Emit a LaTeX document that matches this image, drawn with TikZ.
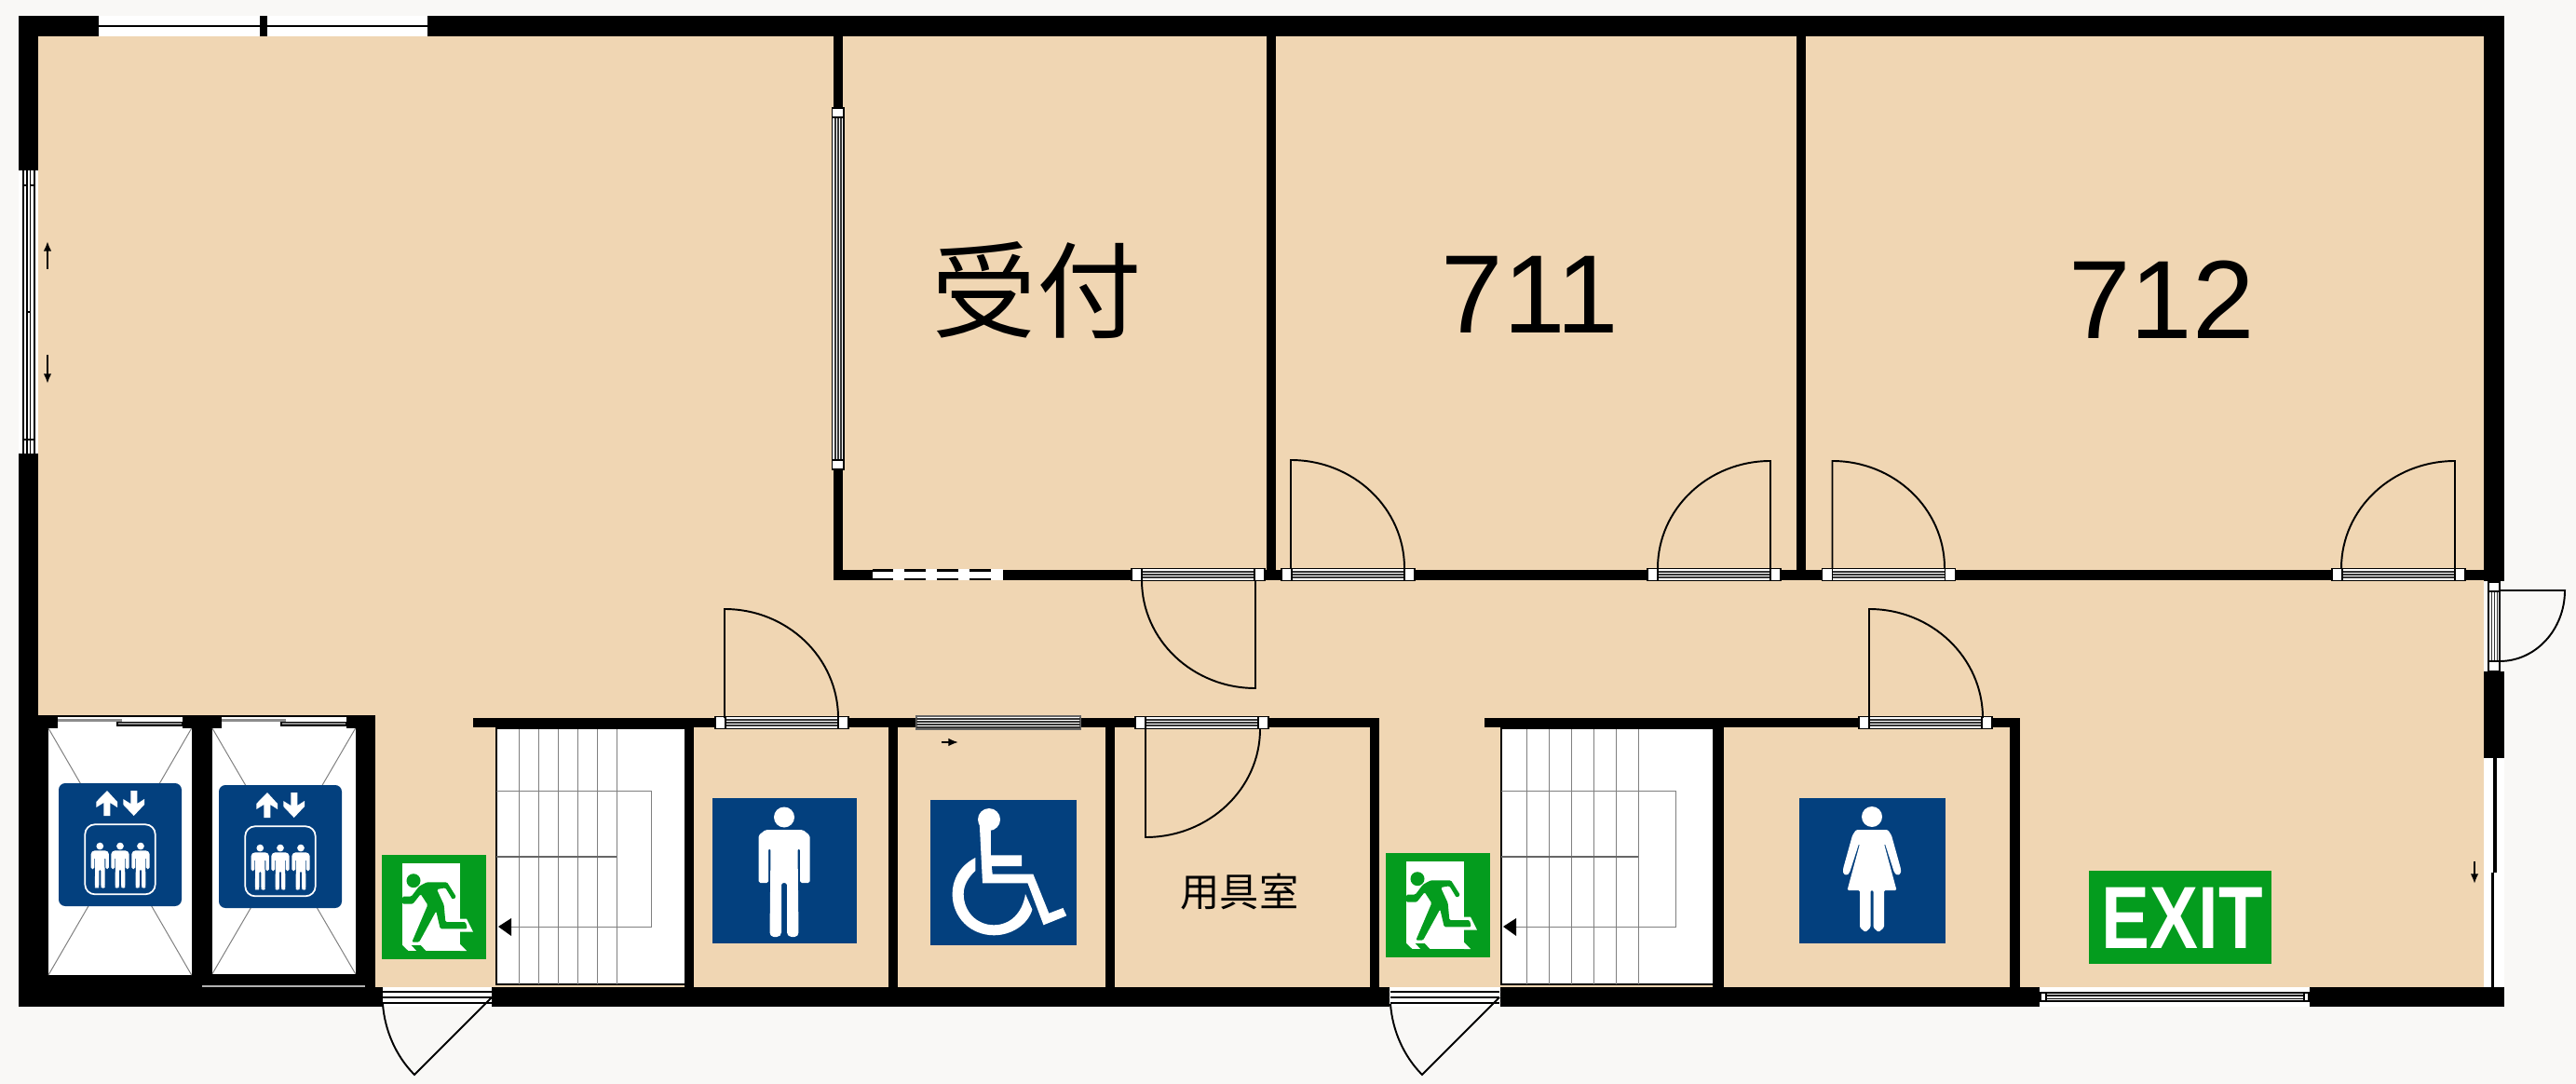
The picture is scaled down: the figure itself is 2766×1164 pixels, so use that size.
\documentclass[tikz,border=0pt]{standalone}
\usepackage{fontspec}
\usepackage{graphicx}
\setmainfont{Liberation Sans}
\newfontfamily\cjkfont{Noto Sans CJK JP}
\usetikzlibrary{calc, arrows.meta}
\definecolor{paper}{HTML}{F9F8F6}
\definecolor{floorcol}{HTML}{F0D6B3}
\definecolor{signblue}{HTML}{03407E}
\definecolor{signgreen}{HTML}{049C1E}
% door frame in a wall: x, y, length
\newcommand{\hframe}[3]{
	\draw[frameline, fill=white] (#1,#2) rectangle ++(#3,13);
	\foreach \k in {3.5,6.5,9.5} \draw[stripe] (#1,#2+\k) -- (#1+#3,#2+\k);
	\draw[frameline, fill=white] (#1,#2) rectangle ++(11,13);
	\draw[frameline, fill=white] (#1+#3-11,#2) rectangle ++(11,13);
}
% door leaf and swing: hinge, tip, end of arc
\newcommand{\doorleaf}[3]{
	\draw[leaf] (#1) -- (#2) .. controls ($(#2)+.5523*(#3)-.5523*(#1)$) and ($(#3)+.5523*(#2)-.5523*(#1)$) .. (#3);
}
\tikzset{
	wall/.style = {fill=black},
	leaf/.style = {draw=black, line width=.55pt},
	frameline/.style = {draw=black, line width=.5pt},
	stripe/.style = {draw=black!80, line width=.3pt},
	tread/.style = {draw=black!50, line width=.28pt},
	thinarrow/.style = {-{Latex[length=3pt, width=2.4pt]}, line width=.55pt},
	pics/man/.style = {code = {
		\fill[white] (0,-13.5) circle[radius=11];
		\fill[white, rounded corners=.5pt] (-20,0) -- (20,0) -- (27.5,6) -- (27.5,57) -- (17,57) -- (17,20) -- (14.5,20) -- (15.5,112) -- (13,115) -- (6,115) -- (3,112) -- (3,57) -- (-3,57) -- (-3,112) -- (-6,115) -- (-13,115) -- (-15.5,112) -- (-14.5,20) -- (-17,20) -- (-17,57) -- (-27.5,57) -- (-27.5,6) -- cycle;
	}},
	pics/woman/.style = {code = {
		\fill[white] (0,-14) circle[radius=11];
		\fill[white, rounded corners=.4pt] (-17,0) -- (17,0) -- (21,6) -- (31,42) -- (31,47) -- (27,49) -- (24,46) -- (14,15) -- (13,15) -- (26.5,65) -- (13,65) -- (13,105) -- (7,110) -- (1.5,105) -- (1.5,65) -- (-1.5,65) -- (-1.5,105) -- (-7,110) -- (-13,105) -- (-13,65) -- (-26.5,65) -- (-13,15) -- (-14,15) -- (-24,46) -- (-27,49) -- (-31,47) -- (-31,42) -- (-21,6) -- cycle;
	}},
	pics/liftsign/.style = {code = {
		\fill[signblue, rounded corners=2pt] (0,0) rectangle (132,132);
		\fill[white] (52,8) -- (63,20) -- (63,26) -- (55.3,21) -- (55.3,35) -- (48.3,35) -- (48.3,21) -- (40.3,26) -- (40.3,20) -- cycle;
		\fill[white] (77.3,8) -- (84.3,8) -- (84.3,22) -- (92,17) -- (92,23) -- (80.7,35) -- (69.3,23) -- (69.3,17) -- (77.3,22) -- cycle;
		\draw[white, line width=.5pt, rounded corners=3pt] (28.3,44.3) rectangle (103.7,119.3);
		\foreach \mx in {44.3,66,88} \pic[scale=.35] at (\mx,72.3) {man};
	}},
	pics/runsign/.style = {code = {
		\fill[signgreen] (0,0) rectangle (112,112);
		\fill[white] (22,9) rectangle (84,103);
		\fill[white] (84,68.7) -- (91,68.7) -- (98,82.7) -- (84,82.7) -- cycle;
		\fill[white] (84,96) -- (91,103) -- (84,103) -- cycle;
		\fill[signgreen] (22,97) -- (28.3,103) -- (22,103) -- cycle;
		\fill[signgreen] (31.7,97) -- (41.7,97) -- (47.3,103) -- (37.3,103) -- cycle;
		\fill[signgreen] (34,27.7) circle[radius=7.5];
		\fill[signgreen, rounded corners=.4pt] (22,44.7) -- (31.7,44.7) -- (40,33.7) -- (48.3,29.3) -- (70,29.3) -- (80,45.3) -- (76,48) -- (68.3,35.3) -- (59,37) -- (66.7,53.7) -- (68.3,72) -- (90,72) -- (91.7,79.3) -- (62.7,79.3) -- (58.3,60.3) -- (40,93.7) -- (32.3,93.7) -- (49.3,53.7) -- (41.7,42) -- (33.3,52.7) -- (22,52.7) -- cycle;
	}},
}
\begin{document}
\begin{tikzpicture}[x=.01cm, y=-.01cm]
	\useasboundingbox (0,0) rectangle (2766,1164);
	\fill[paper] (0,0) rectangle (2766,1164);
	\fill[floorcol] (41,39) rectangle (2667,1060);

	% outer walls and the solid blocks
	\foreach \xa/\ya/\xb/\yb in {20/17/2689/39, 20/17/41/183, 20/487/41/1081, 2667/17/2689/624, 2667/721/2689/814,
		20/768/403/1081, 20/1060/411/1081, 528/1060/1492/1081, 1611/1060/2190/1081, 2480/1060/2689/1081,
		895/39/905/622, 895/612.5/2667/622.5, 1360/39/1370/622, 1929/39/1939/622,
		508/771/1481/781, 533/781/735/783, 735/771/745/1060, 954/771/964/1060, 1187/771/1197/1060, 1471/771/1481/1060,
		1594/771/2169/781, 1612/781/1839/783, 1839/771/1851/1060, 2158/771/2169/1060}
		\fill[wall] (\xa,\ya) rectangle (\xb,\yb);

	% top window
	\fill[white] (106,17) rectangle (458.5,39);
	\draw[black, line width=.6pt] (106,28) -- (458.5,28);
	\fill[wall] (278.6,17) rectangle (286.6,39);

	% left window
	\fill[white] (20,183) rectangle (41,487);
	\foreach \wx in {25,29,32.5,37} \draw[black, line width=.45pt] (\wx,183) -- (\wx,487);
	\draw[black, line width=.45pt] (25,199) -- (29,199) (32.5,199) -- (37,199) (29,335) -- (32.5,335) (25,472) -- (37,472);
	\draw[thinarrow] (51,289) -- (51,259);
	\draw[thinarrow] (51,381) -- (51,412);

	% lifts
	\foreach \lx/\ly/\sx/\sy in {52/1047/63/841, 228/1045.7/235/843} {
		\fill[white] (\lx,782) rectangle (\lx+153.7,\ly);
		\fill[white] (\lx+10,770) rectangle (\lx+144,782);
		\draw[tread] (\lx,782) -- (\lx+153.7,\ly) (\lx+153.7,782) -- (\lx,\ly);
		\fill[black!45] (\lx+10,771.5) rectangle (\lx+79,774.5);
		\draw[frameline, fill=black!45] (\lx+74,775.5) rectangle (\lx+144,779);
		\pic at (\sx,\sy) {liftsign};
	}
	\draw[black!30, line width=.3pt] (217,1059) -- (392,1059);

	% stairs
	\foreach \sa/\sb/\sc/\sd/\se in {533/735/557/21/699, 1612/1839/1639/24/1799} {
		\fill[white] (\sa,783) rectangle (\sb,1057);
		\draw[black, line width=.4pt] (\sa,781) -- (\sa,1057) -- (\sb,1057);
		\foreach \n in {0,...,5} \draw[tread] ({\sc+\n*\sd},783) -- ({\sc+\n*\sd},1057);
		\draw[tread] (\sa,849) -- (\se,849) -- (\se,995) -- (\sa+15,995);
		\draw[black!60, line width=.55pt] (\sa,920) -- ({\sc+5*\sd},920);
		\fill[black] (\sa+2,995) -- (\sa+16,986) -- (\sa+16,1005) -- cycle;
	}

	% doors in the room wall
	\foreach \dx in {1215,1376,1769,1956.5,2504} {\hframe{\dx}{610.5}{143}}
	\doorleaf{1348,623}{1348,739}{1226,623}
	\doorleaf{1386,610}{1386,494}{1508,610}
	\doorleaf{1901,610}{1901,495}{1780,610}
	\doorleaf{1967.5,610}{1967.5,495}{2088,610}
	\doorleaf{2636,610}{2636,495}{2514,610}

	% doors in the lower wall
	\foreach \dx in {768,1219,1996} {\hframe{\dx}{769.5}{143}}
	\doorleaf{778,771}{778,654}{900,771}
	\doorleaf{1230,783}{1230,899}{1353,783}
	\doorleaf{2007,771}{2007,654}{2129,771}
	\fill[white] (984,769) rectangle (1160,783);
	\draw[black!60, line width=.4pt] (984,769) rectangle (1160,783);
	\foreach \k in {772,775,778,781} \draw[stripe] (984,\k) -- (1160,\k);
	\draw[thinarrow, line width=.5pt] (1010.5,797) -- (1029,797);

	% partition window
	\draw[frameline, fill=white] (893.5,116) rectangle (906,504);
	\foreach \k in {897,900,903} \draw[stripe] (\k,116) -- (\k,504);
	\draw[frameline, fill=white] (893.5,116) rectangle (906,126);
	\draw[frameline, fill=white] (893.5,494) rectangle (906,504);

	% opening with dashes
	\fill[white] (937,611) rectangle (1077,623.3);
	\foreach \da/\db in {937/959, 971/994, 1006/1029, 1041/1064} {
		\fill[wall] (\da,611) rectangle (\db,614);
		\fill[wall] (\da,620.7) rectangle (\db,623.3);
	}

	% exits at the bottom
	\foreach \ox in {0,1082} {
		\fill[white] ({411+\ox},1060) rectangle ({528+\ox},1081);
		\foreach \k in {1065,1071,1077} \draw[black, line width=.5pt] ({411+\ox},\k) -- ({528+\ox},\k);
		\draw[leaf] ({528+\ox},1071) -- ({445+\ox},1154) .. controls ({425+\ox},1134) and ({413+\ox},1106) .. ({411+\ox},1078);
	}

	% bottom window
	\fill[white] (2190,1060) rectangle (2480,1081);
	\draw[frameline] (2191,1066) rectangle (2479,1075);
	\draw[frameline] (2197,1066) -- (2197,1075) (2474,1066) -- (2474,1075) (2197,1069) -- (2474,1069) (2197,1072.5) -- (2474,1072.5);

	% right side: door and sliding window
	\draw[frameline, fill=white] (2672,625) rectangle (2684,721);
	\foreach \k in {2675,2678,2681} \draw[stripe] (\k,625) -- (\k,721);
	\draw[frameline, fill=white] (2672,625) rectangle (2684,635);
	\draw[frameline, fill=white] (2672,710) rectangle (2684,721);
	\doorleaf{2684,634}{2754,634}{2684,710}
	\fill[white] (2667,814) rectangle (2689,1060);
	\fill[wall] (2677,814) rectangle (2681,937);
	\fill[wall] (2675,937) rectangle (2678,1060);
	\draw[thinarrow] (2657,924.5) -- (2657,949);

	% signs
	\fill[signblue] (765,857) rectangle (920,1013);
	\pic at (842,891) {man};
	\fill[signblue] (1931.5,857) rectangle (2088.6,1013);
	\pic at (2010,891) {woman};
	\fill[signblue] (999,859) rectangle (1156.4,1014.7);
	\fill[white] (1062,880) circle[radius=12];
	\fill[white] (1051.7,883) -- (1063.8,891.7) -- (1063.8,918.3) -- (1097.2,918.3) -- (1097.2,930) -- (1064.8,930) -- (1065.7,938.7) -- (1109.4,938.7) -- (1126.3,980.7) -- (1141.4,975) -- (1145.2,983.3) -- (1120.5,993.3) -- (1103.5,948.3) -- (1055,948.3) -- cycle;
	\fill[white] (1047.3,921) .. controls (1030,930) and (1022.6,945) .. (1022.6,960) .. controls (1022.6,985) and (1042,1004.3) .. (1067.2,1004.3) .. controls (1087,1004.3) and (1104,992) .. (1108.4,976.7) -- (1101,960) .. controls (1098,980) and (1085,993.3) .. (1067.2,993.3) .. controls (1048,993.3) and (1034.7,978) .. (1034.7,960) .. controls (1034.7,950) and (1040,942) .. (1047.3,935) -- cycle;
	\pic at (410,918) {runsign};
	\pic at (1488,916) {runsign};
	\fill[signgreen] (2243,935) rectangle (2439,1035);

	% labels
	\node (exit) at (2343,985.5) {\fontsize{27}{30}\selectfont\color{white}\bfseries\scalebox{.82}[1]{EXIT}};
	\node (reception) at (1113,312) {\fontsize{32}{36}\selectfont\cjkfont 受付};
	\node (room711) at (1643,316) {\fontsize{34}{38}\selectfont 711};
	\node (room712) at (2321,322) {\fontsize{34}{38}\selectfont 712};
	\node (closet) at (1331,958) {\fontsize{12}{14}\selectfont\cjkfont 用具室};
\end{tikzpicture}
\end{document}
